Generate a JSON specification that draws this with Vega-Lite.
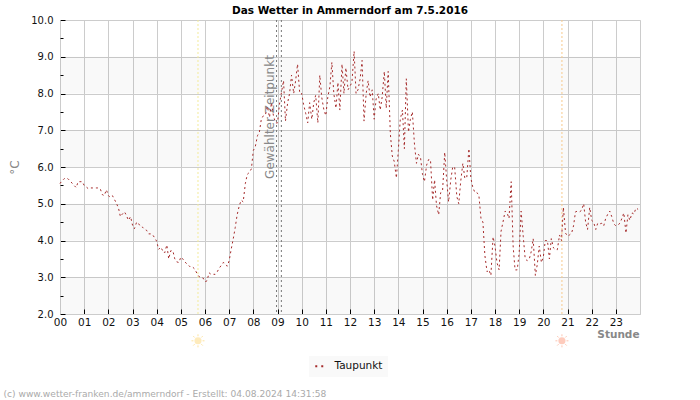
{
"$schema":"https://vega.github.io/schema/vega-lite/v6.json",
"width":580,"height":294,
"autosize":"none",
"padding":{"left":60,"top":20,"right":60,"bottom":86},
"background":"white",
"title":{"text":"Das Wetter in Ammerndorf am 7.5.2016","font":"DejaVu Sans","fontSize":10.5,"fontWeight":"bold","color":"#000","anchor":"middle","offset":-1},
"config":{"font":"DejaVu Sans","view":{"stroke":"#ccc","strokeWidth":1}},
"resolve":{"axis":{"x":"independent","y":"independent"}},
"layer":[
{"data":{"values":[{"a":2,"b":3},{"a":4,"b":5},{"a":6,"b":7},{"a":8,"b":9}]},
 "mark":{"type":"rect","fill":"#000","fillOpacity":0.025},
 "encoding":{"y":{"field":"a","type":"quantitative","scale":{"domain":[2,10],"nice":false,"zero":false},
   "axis":{"orient":"left","values":[2,3,4,5,6,7,8,9,10],"format":".1f","grid":true,"gridColor":"#ccc","gridWidth":1,"domainColor":"#ccc","tickColor":"#000","tickSize":-5,"labelFontSize":10,"labelColor":"#111","labelPadding":12,"title":"°C","titleFontSize":12,"titleFontWeight":"normal","titleColor":"#888","titleX":-39,"titleY":147}},
  "y2":{"field":"b"}}},
{"data":{"values":[{"h":5.71}]},
 "mark":{"type":"rule","stroke":"#f3eb9a","strokeDash":[2,2],"strokeWidth":1},
 "encoding":{"x":{"field":"h","type":"quantitative","scale":{"domain":[0,24],"nice":false,"zero":false},
   "axis":{"orient":"bottom","values":[0,1,2,3,4,5,6,7,8,9,10,11,12,13,14,15,16,17,18,19,20,21,22,23],"format":"02d","grid":true,"gridColor":"#ccc","gridWidth":1,"domainColor":"#ccc","tickColor":"#000","tickSize":-5,"labelFontSize":10.5,"labelColor":"#111","labelPadding":8,"labelFlush":false,"labelOverlap":false,"title":"Stunde","titleFontSize":10.5,"titleFontWeight":"bold","titleColor":"#888","titleAlign":"right","titleBaseline":"middle","titleX":579,"titleY":20}}}},
{"data":{"values":[{"h":20.77}]},
 "mark":{"type":"rule","stroke":"#f7c98c","strokeDash":[2,2],"strokeWidth":1},
 "encoding":{"x":{"field":"h","type":"quantitative","scale":{"domain":[0,24],"nice":false,"zero":false},
   "axis":{"orient":"bottom","values":[],"grid":false,"domain":false,"ticks":false,"labels":false,"title":"(c) www.wetter-franken.de/ammerndorf - Erstellt: 04.08.2024 14:31:58","titleFont":"DejaVu Sans","titleFontSize":9.1,"titleFontWeight":"normal","titleColor":"#aaa","titleAlign":"left","titleBaseline":"middle","titleX":-57,"titleY":79}}}},
{"data":{"values":[{"h":8.96},{"h":9.16}]},
 "mark":{"type":"rule","stroke":"#777","strokeDash":[2,3],"strokeWidth":1},
 "encoding":{"x":{"field":"h","type":"quantitative","scale":{"domain":[0,24],"nice":false,"zero":false},"axis":null}}},
{"data":{"values":[{"h":8.7,"t":7.36,"label":"Gewählter Zeitpunkt"}]},
 "mark":{"type":"text","angle":270,"fontSize":12,"color":"#888","align":"center","baseline":"middle"},
 "encoding":{"x":{"field":"h","type":"quantitative","scale":{"domain":[0,24],"nice":false,"zero":false},"axis":null},
  "y":{"field":"t","type":"quantitative","scale":{"domain":[2,10],"nice":false,"zero":false},
   "axis":{"orient":"left","values":[2.5,3.5,4.5,5.5,6.5,7.5,8.5,9.5],"grid":false,"domain":false,"labels":false,"tickColor":"#000","tickSize":-3,"title":null}},
  "text":{"field":"label"}}},
{"data":{"values":[
{"h":0,"t":5.55},{"h":0.08,"t":5.62},{"h":0.17,"t":5.68},{"h":0.25,"t":5.7},{"h":0.33,"t":5.68},{"h":0.42,"t":5.62},{"h":0.5,"t":5.56},{"h":0.58,"t":5.5},{"h":0.67,"t":5.44},{"h":0.75,"t":5.6},{"h":0.83,"t":5.6},{"h":0.92,"t":5.6},
{"h":1,"t":5.5},{"h":1.08,"t":5.46},{"h":1.17,"t":5.41},{"h":1.25,"t":5.43},{"h":1.33,"t":5.43},{"h":1.42,"t":5.43},{"h":1.5,"t":5.43},{"h":1.58,"t":5.43},{"h":1.67,"t":5.4},{"h":1.75,"t":5.25},{"h":1.83,"t":5.22},{"h":1.92,"t":5.38},
{"h":2,"t":5.22},{"h":2.08,"t":5.18},{"h":2.17,"t":5.22},{"h":2.25,"t":5.12},{"h":2.33,"t":5.02},{"h":2.42,"t":4.88},{"h":2.5,"t":4.65},{"h":2.58,"t":4.72},{"h":2.67,"t":4.78},{"h":2.75,"t":4.68},{"h":2.83,"t":4.55},{"h":2.92,"t":4.65},
{"h":3,"t":4.42},{"h":3.08,"t":4.32},{"h":3.17,"t":4.5},{"h":3.25,"t":4.46},{"h":3.33,"t":4.38},{"h":3.42,"t":4.36},{"h":3.5,"t":4.3},{"h":3.58,"t":4.28},{"h":3.67,"t":4.18},{"h":3.75,"t":4.18},{"h":3.83,"t":4.16},{"h":3.92,"t":4.07},
{"h":4,"t":3.98},{"h":4.08,"t":3.76},{"h":4.17,"t":3.82},{"h":4.25,"t":3.72},{"h":4.33,"t":3.66},{"h":4.42,"t":3.88},{"h":4.5,"t":3.5},{"h":4.58,"t":3.72},{"h":4.67,"t":3.72},{"h":4.75,"t":3.5},{"h":4.83,"t":3.42},{"h":4.92,"t":3.4},
{"h":5,"t":3.55},{"h":5.08,"t":3.5},{"h":5.17,"t":3.42},{"h":5.25,"t":3.36},{"h":5.33,"t":3.32},{"h":5.42,"t":3.26},{"h":5.5,"t":3.27},{"h":5.58,"t":3.22},{"h":5.67,"t":3.1},{"h":5.75,"t":3.02},{"h":5.83,"t":3},{"h":5.92,"t":2.98},
{"h":6,"t":2.88},{"h":6.08,"t":2.9},{"h":6.17,"t":3.12},{"h":6.25,"t":3.08},{"h":6.33,"t":3.08},{"h":6.42,"t":3.08},{"h":6.5,"t":3.14},{"h":6.58,"t":3.24},{"h":6.67,"t":3.32},{"h":6.75,"t":3.4},{"h":6.83,"t":3.38},{"h":6.92,"t":3.3},
{"h":7,"t":3.45},{"h":7.08,"t":3.75},{"h":7.17,"t":4.05},{"h":7.25,"t":4.35},{"h":7.33,"t":4.7},{"h":7.42,"t":4.95},{"h":7.5,"t":5.1},{"h":7.58,"t":5.05},{"h":7.67,"t":5.55},{"h":7.75,"t":5.8},{"h":7.83,"t":5.85},{"h":7.92,"t":5.95},
{"h":8,"t":6.45},{"h":8.08,"t":6.55},{"h":8.17,"t":6.85},{"h":8.25,"t":6.95},{"h":8.33,"t":7.3},{"h":8.42,"t":7.4},{"h":8.5,"t":7.42},{"h":8.58,"t":7.65},{"h":8.67,"t":7.35},{"h":8.75,"t":7.75},{"h":8.83,"t":7.4},{"h":8.92,"t":7.2},
{"h":9,"t":7.2},{"h":9.08,"t":7.7},{"h":9.17,"t":8.05},{"h":9.25,"t":8.35},{"h":9.33,"t":7.25},{"h":9.42,"t":7.75},{"h":9.5,"t":8},{"h":9.58,"t":8.5},{"h":9.67,"t":8},{"h":9.75,"t":8.35},{"h":9.83,"t":8.8},{"h":9.92,"t":8},
{"h":10,"t":8},{"h":10.08,"t":7.7},{"h":10.17,"t":7.45},{"h":10.25,"t":7.2},{"h":10.33,"t":7.75},{"h":10.42,"t":7.3},{"h":10.5,"t":7.75},{"h":10.58,"t":7.95},{"h":10.67,"t":7.2},{"h":10.75,"t":8.5},{"h":10.83,"t":7.9},{"h":10.92,"t":7.55},
{"h":11,"t":7.4},{"h":11.08,"t":7.9},{"h":11.17,"t":8.2},{"h":11.25,"t":8.85},{"h":11.33,"t":8},{"h":11.42,"t":7.6},{"h":11.5,"t":8.3},{"h":11.58,"t":7.55},{"h":11.67,"t":8.8},{"h":11.75,"t":8},{"h":11.83,"t":8.7},{"h":11.92,"t":8.1},
{"h":12,"t":8.2},{"h":12.08,"t":8.3},{"h":12.17,"t":9.15},{"h":12.25,"t":8},{"h":12.33,"t":8.1},{"h":12.42,"t":8.4},{"h":12.5,"t":8.9},{"h":12.58,"t":7.25},{"h":12.67,"t":8},{"h":12.75,"t":8.35},{"h":12.83,"t":7.9},{"h":12.92,"t":8.1},
{"h":13,"t":7.3},{"h":13.08,"t":7.85},{"h":13.17,"t":8},{"h":13.25,"t":7.55},{"h":13.33,"t":7.9},{"h":13.42,"t":8.6},{"h":13.5,"t":7.6},{"h":13.58,"t":8.6},{"h":13.67,"t":6.9},{"h":13.75,"t":6.3},{"h":13.83,"t":6.15},{"h":13.92,"t":5.7},
{"h":14,"t":6.45},{"h":14.08,"t":7.3},{"h":14.17,"t":7.55},{"h":14.25,"t":6.5},{"h":14.33,"t":8.4},{"h":14.42,"t":6.95},{"h":14.5,"t":7.3},{"h":14.58,"t":7.5},{"h":14.67,"t":6.6},{"h":14.75,"t":6.1},{"h":14.83,"t":6.35},{"h":14.92,"t":6.25},
{"h":15,"t":5.8},{"h":15.08,"t":5.6},{"h":15.17,"t":6.05},{"h":15.25,"t":6.2},{"h":15.33,"t":6.2},{"h":15.42,"t":5.1},{"h":15.5,"t":5.65},{"h":15.58,"t":4.95},{"h":15.67,"t":4.7},{"h":15.75,"t":5.3},{"h":15.83,"t":5.35},{"h":15.92,"t":6.4},
{"h":16,"t":5.65},{"h":16.08,"t":5.05},{"h":16.17,"t":5.65},{"h":16.25,"t":6},{"h":16.33,"t":6},{"h":16.42,"t":5.2},{"h":16.5,"t":5},{"h":16.58,"t":5.6},{"h":16.67,"t":6.1},{"h":16.75,"t":5.7},{"h":16.83,"t":5.7},{"h":16.92,"t":6.5},
{"h":17,"t":5.7},{"h":17.08,"t":5.45},{"h":17.17,"t":5.3},{"h":17.25,"t":5.3},{"h":17.33,"t":5.25},{"h":17.42,"t":4.6},{"h":17.5,"t":4.5},{"h":17.58,"t":3.6},{"h":17.67,"t":3.15},{"h":17.75,"t":3.2},{"h":17.83,"t":3.05},{"h":17.92,"t":4.1},
{"h":18,"t":3.85},{"h":18.08,"t":3.4},{"h":18.17,"t":3.2},{"h":18.25,"t":4.25},{"h":18.33,"t":4.5},{"h":18.42,"t":4.8},{"h":18.5,"t":4.75},{"h":18.58,"t":4.6},{"h":18.67,"t":5.6},{"h":18.75,"t":3.85},{"h":18.83,"t":3.2},{"h":18.92,"t":3.2},
{"h":19,"t":3.65},{"h":19.08,"t":4.8},{"h":19.17,"t":4.1},{"h":19.25,"t":3.5},{"h":19.33,"t":3.45},{"h":19.42,"t":3.5},{"h":19.5,"t":3.7},{"h":19.58,"t":4.05},{"h":19.67,"t":3.05},{"h":19.75,"t":3.35},{"h":19.83,"t":3.85},{"h":19.92,"t":3.4},
{"h":20,"t":3.55},{"h":20.08,"t":4},{"h":20.17,"t":4},{"h":20.25,"t":3.5},{"h":20.33,"t":4.05},{"h":20.42,"t":3.8},{"h":20.5,"t":3.75},{"h":20.58,"t":3.75},{"h":20.67,"t":4.15},{"h":20.75,"t":4},{"h":20.83,"t":4.9},{"h":20.92,"t":4.2},
{"h":21,"t":4.12},{"h":21.08,"t":4.15},{"h":21.17,"t":4.2},{"h":21.25,"t":4.4},{"h":21.33,"t":4.78},{"h":21.42,"t":4.8},{"h":21.5,"t":4.78},{"h":21.58,"t":4.82},{"h":21.67,"t":5},{"h":21.75,"t":4.5},{"h":21.83,"t":4.3},{"h":21.92,"t":4.9},
{"h":22,"t":4.55},{"h":22.08,"t":4.5},{"h":22.17,"t":4.3},{"h":22.25,"t":4.47},{"h":22.33,"t":4.45},{"h":22.42,"t":4.47},{"h":22.5,"t":4.4},{"h":22.58,"t":4.6},{"h":22.67,"t":4.72},{"h":22.75,"t":4.8},{"h":22.83,"t":4.65},{"h":22.92,"t":4.45},
{"h":23,"t":4.4},{"h":23.08,"t":4.42},{"h":23.17,"t":4.47},{"h":23.25,"t":4.6},{"h":23.33,"t":4.75},{"h":23.42,"t":4.2},{"h":23.5,"t":4.7},{"h":23.58,"t":4.55},{"h":23.67,"t":4.75},{"h":23.75,"t":4.72},{"h":23.83,"t":4.88},{"h":23.92,"t":4.85}
]},
 "mark":{"type":"line","strokeWidth":1,"strokeDash":[2,3],"interpolate":"linear"},
 "encoding":{"x":{"field":"h","type":"quantitative","scale":{"domain":[0,24],"nice":false,"zero":false},"axis":null},
  "y":{"field":"t","type":"quantitative","scale":{"domain":[2,10],"nice":false,"zero":false},"axis":null},
  "color":{"datum":"Taupunkt","scale":{"domain":["Taupunkt"],"range":["#a52a2a"]},
   "legend":{"orient":"none","legendX":249,"legendY":336,"title":null,"fillColor":"#f9f9f9","padding":5,"symbolType":"stroke","symbolDashOffset":0,"symbolDash":[2,4],"symbolSize":64,"symbolStrokeWidth":2,"labelFontSize":10.5,"labelColor":"#111","labelOffset":10,"rowPadding":0}}}},
{"data":{"values":[{"h":5.71,"t":1.27}]},
 "mark":{"type":"point","filled":true,"fill":"#fde3a0","stroke":null,"size":50,"shape":"circle","clip":false},
 "encoding":{"x":{"field":"h","type":"quantitative","scale":{"domain":[0,24],"nice":false,"zero":false},"axis":null},"y":{"field":"t","type":"quantitative","scale":{"domain":[2,10],"nice":false,"zero":false},"axis":null}}},
{"data":{"values":[{"h":5.71,"t":1.27}]},
 "mark":{"type":"point","filled":false,"opacity":1,"stroke":"#fde3a0","strokeWidth":1,"size":170,"shape":"M0,-1V-0.7M0,1V0.7M-1,0H-0.7M1,0H0.7M-0.72,-0.72L-0.52,-0.52M0.72,0.72L0.52,0.52M-0.72,0.72L-0.52,0.52M0.72,-0.72L0.52,-0.52","clip":false},
 "encoding":{"x":{"field":"h","type":"quantitative","scale":{"domain":[0,24],"nice":false,"zero":false},"axis":null},"y":{"field":"t","type":"quantitative","scale":{"domain":[2,10],"nice":false,"zero":false},"axis":null}}},
{"data":{"values":[{"h":20.77,"t":1.27}]},
 "mark":{"type":"point","filled":true,"fill":"#fdb5a0","stroke":null,"size":50,"shape":"circle","clip":false},
 "encoding":{"x":{"field":"h","type":"quantitative","scale":{"domain":[0,24],"nice":false,"zero":false},"axis":null},"y":{"field":"t","type":"quantitative","scale":{"domain":[2,10],"nice":false,"zero":false},"axis":null}}},
{"data":{"values":[{"h":20.77,"t":1.27}]},
 "mark":{"type":"point","filled":false,"opacity":1,"stroke":"#fdc4b0","strokeWidth":1,"size":170,"shape":"M0,-1V-0.7M0,1V0.7M-1,0H-0.7M1,0H0.7M-0.72,-0.72L-0.52,-0.52M0.72,0.72L0.52,0.52M-0.72,0.72L-0.52,0.52M0.72,-0.72L0.52,-0.52","clip":false},
 "encoding":{"x":{"field":"h","type":"quantitative","scale":{"domain":[0,24],"nice":false,"zero":false},"axis":null},"y":{"field":"t","type":"quantitative","scale":{"domain":[2,10],"nice":false,"zero":false},"axis":null}}}
]
}
